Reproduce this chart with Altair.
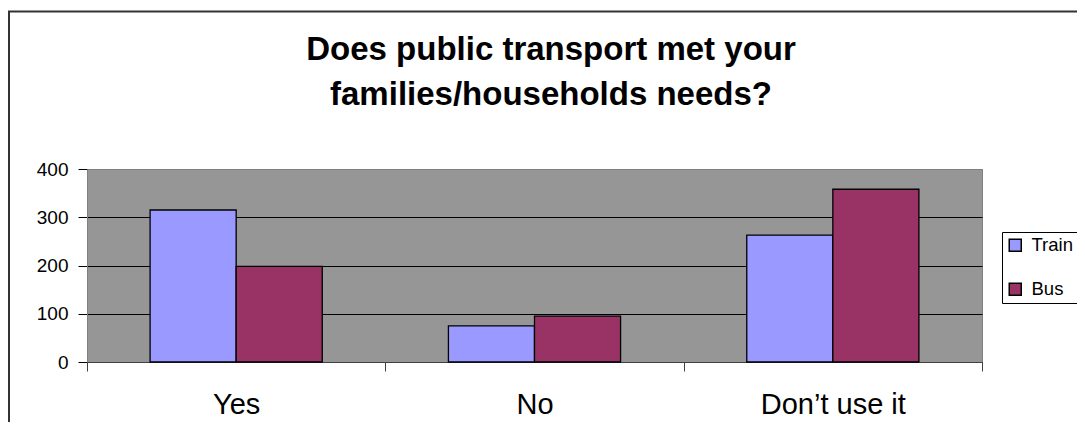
import altair as alt
import pandas as pd

categories = ["Yes", "No", "Don\u2019t use it"]
series = ["Train", "Bus"]
train_values = [315, 75, 263]
bus_values = [198, 95, 358]
y_ticks = [0, 100, 200, 300, 400]
colors = ["#9999FF", "#993366"]
title_lines = ["Does public transport met your", "families/households needs?"]

rows = []
for i, c in enumerate(categories):
    rows.append({"answer": c, "mode": series[0], "count": train_values[i]})
    rows.append({"answer": c, "mode": series[1], "count": bus_values[i]})
df = pd.DataFrame(rows)

FONT = "Liberation Sans"

bars = alt.Chart(df).mark_bar(stroke="black", strokeWidth=1.3).encode(
    x=alt.X(
        "answer:N", sort=categories, title=None,
        scale=alt.Scale(paddingInner=0, paddingOuter=0),
        axis=alt.Axis(labelAngle=0, labelFontSize=29, labelFont=FONT, labelColor="black",
                      tickBand="extent", tickSize=9, tickColor="#404040",
                      domainColor="#404040", labelPadding=19, grid=False),
    ),
    xOffset=alt.XOffset("mode:N", sort=series,
                        scale=alt.Scale(paddingInner=0, paddingOuter=0.733)),
    y=alt.Y(
        "count:Q", title=None,
        scale=alt.Scale(domain=[0, 400], nice=False),
        axis=alt.Axis(values=y_ticks, grid=True,
                      gridColor={"condition": {"test": "datum.value >= 400", "value": "#808080"},
                                 "value": "black"},
                      gridWidth=1, labelFontSize=19, labelFont=FONT, labelColor="black",
                      labelPadding=10, tickSize=9, tickColor="black", domainColor="#808080"),
    ),
    color=alt.Color(
        "mode:N", sort=series,
        scale=alt.Scale(domain=series, range=colors),
        legend=alt.Legend(title=None, orient="none", legendX=915, legendY=63,
                          symbolType="square", symbolSize=144, symbolStrokeColor="black",
                          symbolStrokeWidth=1.5, labelFontSize=18.5, labelFont=FONT,
                          labelColor="black", labelOffset=7, rowPadding=25, padding=4,
                          strokeColor="black", fillColor="white", cornerRadius=0),
    ),
)

frame = alt.Chart(pd.DataFrame({"k": [0]})).mark_rect(
    fillOpacity=0, stroke="#333333", strokeWidth=2
).encode(x=alt.value(-78), x2=alt.value(3000), y=alt.value(-157.5), y2=alt.value(3000))

chart = alt.layer(frame, bars).properties(
    width=895,
    height=193,
    title=alt.TitleParams(text=title_lines, fontSize=33, font=FONT, fontWeight="bold",
                          color="black", anchor="middle", frame="group", dx=16.5,
                          lineHeight=45, baseline="top", offset=-101),
    autosize=alt.AutoSizeParams(type="none"),
    padding={"left": 79, "top": 161, "right": 95, "bottom": 60},
).configure(
    background="white", font=FONT
).configure_view(
    fill="#969696", stroke="#808080", strokeWidth=1
)

chart.save("out.html", embed_options={"renderer": "svg", "actions": False})
